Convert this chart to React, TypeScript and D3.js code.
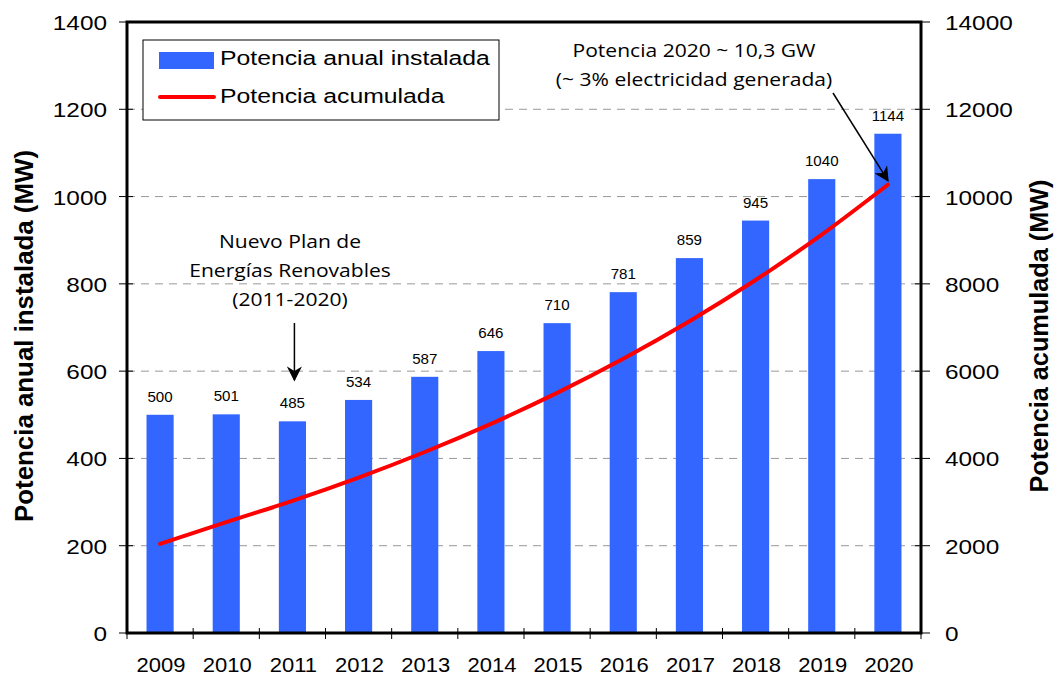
import { useEffect, useRef } from 'react';
import * as d3 from 'd3';

const years = ['2009', '2010', '2011', '2012', '2013', '2014', '2015', '2016', '2017', '2018', '2019', '2020'];
const annual = [500, 501, 485, 534, 587, 646, 710, 781, 859, 945, 1040, 1144];
const cumulative = [2040, 2541, 3026, 3560, 4147, 4793, 5503, 6284, 7143, 8088, 9128, 10272];
const leftTicks = [0, 200, 400, 600, 800, 1000, 1200, 1400];
const rightTicks = [0, 2000, 4000, 6000, 8000, 10000, 12000, 14000];

const W = 1055;
const H = 677;

const App = () => {
  const svgRef = useRef<SVGSVGElement>(null);

  useEffect(() => {
    if (!svgRef.current) return;
    const m = { left: 127, right: 921, top: 22, bottom: 633 };

    const svg = d3.select(svgRef.current);
    svg.selectAll('*').remove();

    const x = d3.scaleBand().domain(years).range([m.left, m.right]).paddingInner(0).paddingOuter(0);
    const y = d3.scaleLinear().domain([0, 1400]).range([m.bottom, m.top]);
    const y2 = d3.scaleLinear().domain([0, 14000]).range([m.bottom, m.top]);
    const font = 'Arial, "Liberation Sans", sans-serif';
    const noteFont = '"Open Sans", "Noto Sans", sans-serif';

    // the original picture is a bit stretched sideways, so text is widened too
    const label = (px: number, py: number, txt: string | number, size: number, anchor: string,
      sx: number, family = font) =>
      svg.append('text')
        .attr('transform', `translate(${px},${py}) scale(${sx},1)`)
        .attr('text-anchor', anchor)
        .style('font-family', family)
        .style('font-size', `${size}px`)
        .style('fill', '#000')
        .text(txt);

    // grid
    svg.append('g')
      .selectAll('line')
      .data(leftTicks.filter(d => d > 0 && d < 1400))
      .enter()
      .append('line')
      .attr('x1', m.left).attr('x2', m.right)
      .attr('y1', d => y(d)).attr('y2', d => y(d))
      .attr('stroke', '#999').attr('stroke-width', 1)
      .attr('stroke-dasharray', '8,6');

    // bars
    const bw = x.bandwidth() * 0.41;
    svg.append('g')
      .selectAll('rect')
      .data(annual)
      .enter()
      .append('rect')
      .attr('x', (d, i) => x(years[i])! + (x.bandwidth() - bw) / 2)
      .attr('y', d => y(d))
      .attr('width', bw)
      .attr('height', d => y(0) - y(d))
      .attr('fill', '#3366FF');

    // bar labels
    annual.forEach((d, i) => {
      label(x(years[i])! + x.bandwidth() / 2, y(d) - 13, d, 14, 'middle', 1.08);
    });

    // cumulative line
    const line = d3.line<number>()
      .x((d, i) => x(years[i])! + x.bandwidth() / 2)
      .y(d => y2(d))
      .curve(d3.curveMonotoneX);
    svg.append('path')
      .datum(cumulative)
      .attr('d', line)
      .attr('fill', 'none')
      .attr('stroke', '#FF0000')
      .attr('stroke-width', 4)
      .attr('stroke-linecap', 'round');

    // frame
    svg.append('rect').attr('x', m.left).attr('y', m.top)
      .attr('width', m.right - m.left).attr('height', m.bottom - m.top)
      .attr('fill', 'none').attr('stroke', '#000').attr('stroke-width', 3);

    // left ticks
    leftTicks.forEach(t => {
      svg.append('line').attr('x1', m.left - 8).attr('x2', m.left + 6).attr('y1', y(t)).attr('y2', y(t))
        .attr('stroke', '#000').attr('stroke-width', 1);
      label(107, y(t) + 8, t, 21, 'end', 1.16);
    });
    // right ticks
    rightTicks.forEach(t => {
      svg.append('line').attr('x1', m.right - 6).attr('x2', m.right + 9).attr('y1', y2(t)).attr('y2', y2(t))
        .attr('stroke', '#000').attr('stroke-width', 1);
      label(945, y2(t) + 8, t, 21, 'start', 1.16);
    });
    // bottom ticks
    d3.range(years.length + 1).forEach(i => {
      const xx = m.left + i * x.bandwidth();
      svg.append('line').attr('x1', xx).attr('x2', xx).attr('y1', m.bottom - 5).attr('y2', m.bottom + 6)
        .attr('stroke', '#000').attr('stroke-width', 1);
    });
    years.forEach(yr => {
      label(x(yr)! + x.bandwidth() / 2 + 1, 672, yr, 20, 'middle', 1.1);
    });

    // axis titles
    svg.append('text')
      .attr('transform', `translate(33,336) scale(1.15,1) rotate(-90)`)
      .attr('text-anchor', 'middle')
      .attr('textLength', 372).attr('lengthAdjust', 'spacingAndGlyphs')
      .style('font-family', font).style('font-size', '22px').style('font-weight', 'bold')
      .text('Potencia anual instalada (MW)');
    svg.append('text')
      .attr('transform', `translate(1048,336) scale(1.15,1) rotate(-90)`)
      .attr('text-anchor', 'middle')
      .attr('textLength', 313).attr('lengthAdjust', 'spacingAndGlyphs')
      .style('font-family', font).style('font-size', '22px').style('font-weight', 'bold')
      .text('Potencia acumulada (MW)');

    // legend
    svg.append('rect').attr('x', 143).attr('y', 40).attr('width', 356).attr('height', 80)
      .attr('fill', '#fff').attr('stroke', '#000').attr('stroke-width', 1);
    svg.append('rect').attr('x', 159).attr('y', 52).attr('width', 55).attr('height', 17).attr('fill', '#3366FF');
    svg.append('line').attr('x1', 160).attr('x2', 214).attr('y1', 97).attr('y2', 97)
      .attr('stroke', '#FF0000').attr('stroke-width', 4).attr('stroke-linecap', 'round');
    label(220, 65, 'Potencia anual instalada', 21, 'start', 1.18);
    label(220, 103, 'Potencia acumulada', 21, 'start', 1.18);

    // arrow head
    svg.append('defs').append('marker')
      .attr('id', 'arr').attr('viewBox', '0 0 10 10').attr('refX', 9).attr('refY', 5)
      .attr('markerWidth', 18).attr('markerHeight', 15).attr('markerUnits', 'userSpaceOnUse')
      .attr('orient', 'auto')
      .append('path').attr('d', 'M0,0 L10,5 L0,10 L3,5 Z').attr('fill', '#000');

    // note 2011
    const ax = x('2011')! + x.bandwidth() / 2 + 2;
    label(290, 248, 'Nuevo Plan de', 18, 'middle', 1.17, noteFont);
    label(290, 277, 'Energías Renovables', 18, 'middle', 1.17, noteFont);
    label(290, 306, '(2011-2020)', 18, 'middle', 1.17, noteFont);
    svg.append('line').attr('x1', ax).attr('x2', ax).attr('y1', 323).attr('y2', 380)
      .attr('stroke', '#000').attr('stroke-width', 1.5).attr('marker-end', 'url(#arr)');

    // note 2020
    label(694, 57, 'Potencia 2020 ~ 10,3 GW', 18, 'middle', 1.17, noteFont);
    label(694, 86, '(~ 3% electricidad generada)', 18, 'middle', 1.17, noteFont);
    svg.append('line').attr('x1', 833).attr('y1', 93)
      .attr('x2', x('2020')! + x.bandwidth() / 2).attr('y2', y2(cumulative[11]) - 4)
      .attr('stroke', '#000').attr('stroke-width', 1.5).attr('marker-end', 'url(#arr)');
  }, []);

  return (
    <svg ref={svgRef} width={W} height={H}
      style={{ position: 'absolute', left: 0, top: 0, background: '#fff' }} />
  );
};

export default App;
